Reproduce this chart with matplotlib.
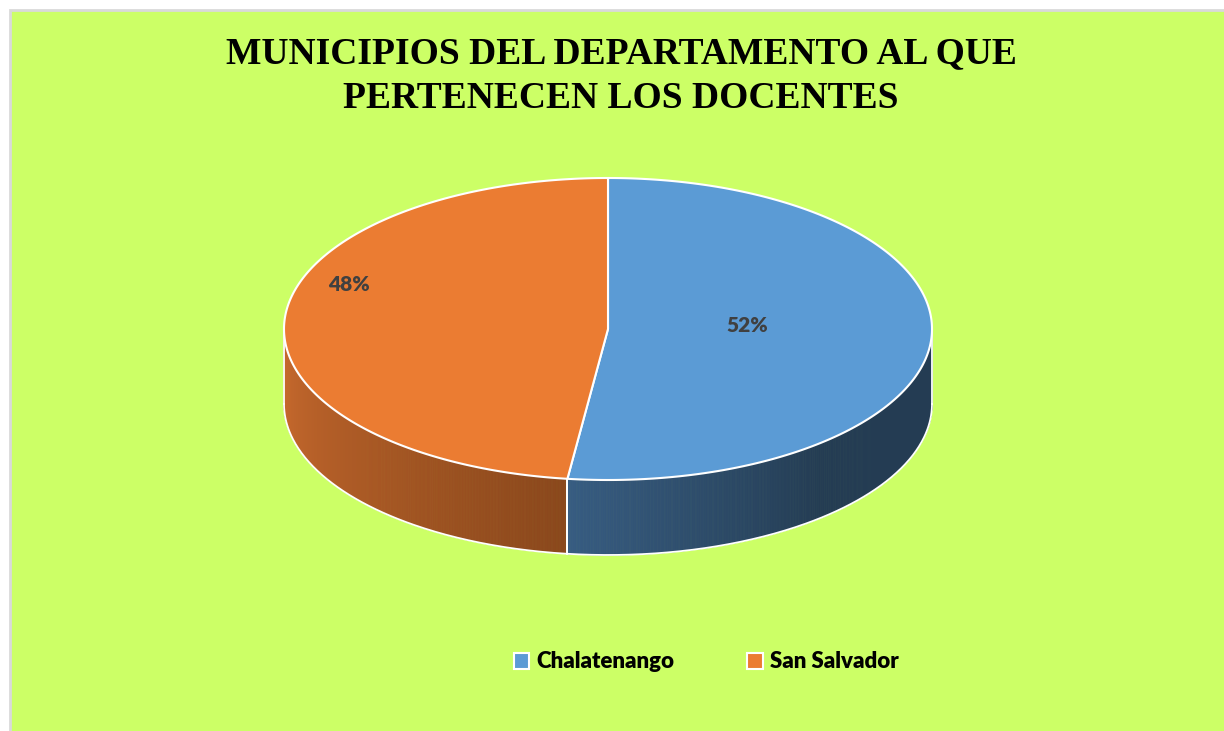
import numpy as np
import matplotlib
matplotlib.use("Agg")
import matplotlib.pyplot as plt
from matplotlib.patches import Polygon, Rectangle, Patch

# ---- data ----
categories = ["Chalatenango", "San Salvador"]
values = [52, 48]
pct_labels = ["52%", "48%"]
title = "MUNICIPIOS DEL DEPARTAMENTO AL QUE\nPERTENECEN LOS DOCENTES"

# ---- style ----
top_colors = ["#5B9BD5", "#EB7C32"]
side_light = [(55, 92, 130), (202, 107, 46)]
side_dark = [(36, 60, 83), (138, 71, 28)]
side_reach = [0.5, 1.0]
label_offsets = [(0.43, 0.03), (-0.80, 0.30)]
bg_color = "#CCFF66"

W, H = 1224, 731
fig = plt.figure(figsize=(W / 100, H / 100), dpi=100)
fig.patch.set_facecolor("white")

ax = fig.add_axes([0, 0, 1, 1])
ax.set_xlim(0, W)
ax.set_ylim(H, 0)
ax.axis("off")
ax.patch.set_alpha(0)
ax.add_patch(Rectangle((10, 10), W + 20, H + 20, fc=bg_color, ec="#D9D9D9",
                       lw=2, zorder=0, clip_on=False))

cx, cy, a, b, depth = 608, 329, 324, 151, 75


def pt(t_deg, dy=0.0, r=1.0):
    t = np.radians(t_deg)
    return cx + r * a * np.cos(t), cy - r * b * np.sin(t) + dy


fracs = np.array(values, dtype=float) / np.sum(values)
start = 90.0
ranges = []
for f in fracs:
    end = start - 360.0 * f
    ranges.append((start, end))
    start = end

# sides (front half only)
for i, (t0, t1) in enumerate(ranges):
    ts = np.linspace(t1, t0, 600)
    vis = np.sin(np.radians(ts)) <= 1e-9
    tv = ts[vis]
    if len(tv) < 2:
        continue
    xs = np.array([pt(t)[0] for t in tv])
    order = np.argsort(xs)
    tv = tv[order]
    n = len(tv)
    lc = np.array(side_light[i]) / 255
    dc = np.array(side_dark[i]) / 255
    for k in range(n - 1):
        f = k / (n - 2)
        c = lc + (dc - lc) * min(1.0, f / side_reach[i])
        x0, y0 = pt(tv[k])
        x1, y1 = pt(tv[k + 1])
        ax.add_patch(Polygon([(x0, y0), (x1, y1), (x1, y1 + depth), (x0, y0 + depth)],
                             closed=True, fc=c, ec=c, lw=0.6, zorder=2))
    for tt in (tv[0], tv[-1]):
        xe, ye = pt(tt)
        ax.plot([xe, xe], [ye, ye + depth], color="white", lw=1.3, zorder=3)

# bottom outline of side
tb = np.linspace(180, 360, 400)
bx, by = zip(*[pt(t, depth) for t in tb])
ax.plot(bx, by, color="white", lw=1.3, zorder=3)

# top faces
for i, (t0, t1) in enumerate(ranges):
    ts = np.linspace(t0, t1, 400)
    pts = [(cx, cy)] + [pt(t) for t in ts]
    ax.add_patch(Polygon(pts, closed=True, fc=top_colors[i], ec="white",
                         lw=1.5, joinstyle="round", zorder=4))

# labels
for i, lab in enumerate(pct_labels):
    ox, oy = label_offsets[i]
    ax.text(cx + ox * a, cy - oy * b + 1, lab, ha="center", va="center",
            fontsize=15, fontweight="heavy", family=["Lato", "DejaVu Sans"],
            color="#404040", zorder=5)

fig.text(621 / W, 1 - 76 / H, title, ha="center", va="center",
         fontsize=27, fontweight="bold", family=["Liberation Serif", "DejaVu Serif"],
         linespacing=1.35, color="black")

handles = [Patch(fc=top_colors[i], ec="white", lw=1.5) for i in range(len(categories))]
leg = fig.legend(handles, categories, loc="center", ncol=2, frameon=False,
                 bbox_to_anchor=(706 / W, 1 - 662 / H),
                 prop={"family": ["Lato", "DejaVu Sans"], "weight": "heavy", "size": 16},
                 handlelength=0.7, handleheight=0.7, handletextpad=0.3,
                 columnspacing=3.3)

fig.savefig("out.png", dpi=100, facecolor=fig.get_facecolor())
